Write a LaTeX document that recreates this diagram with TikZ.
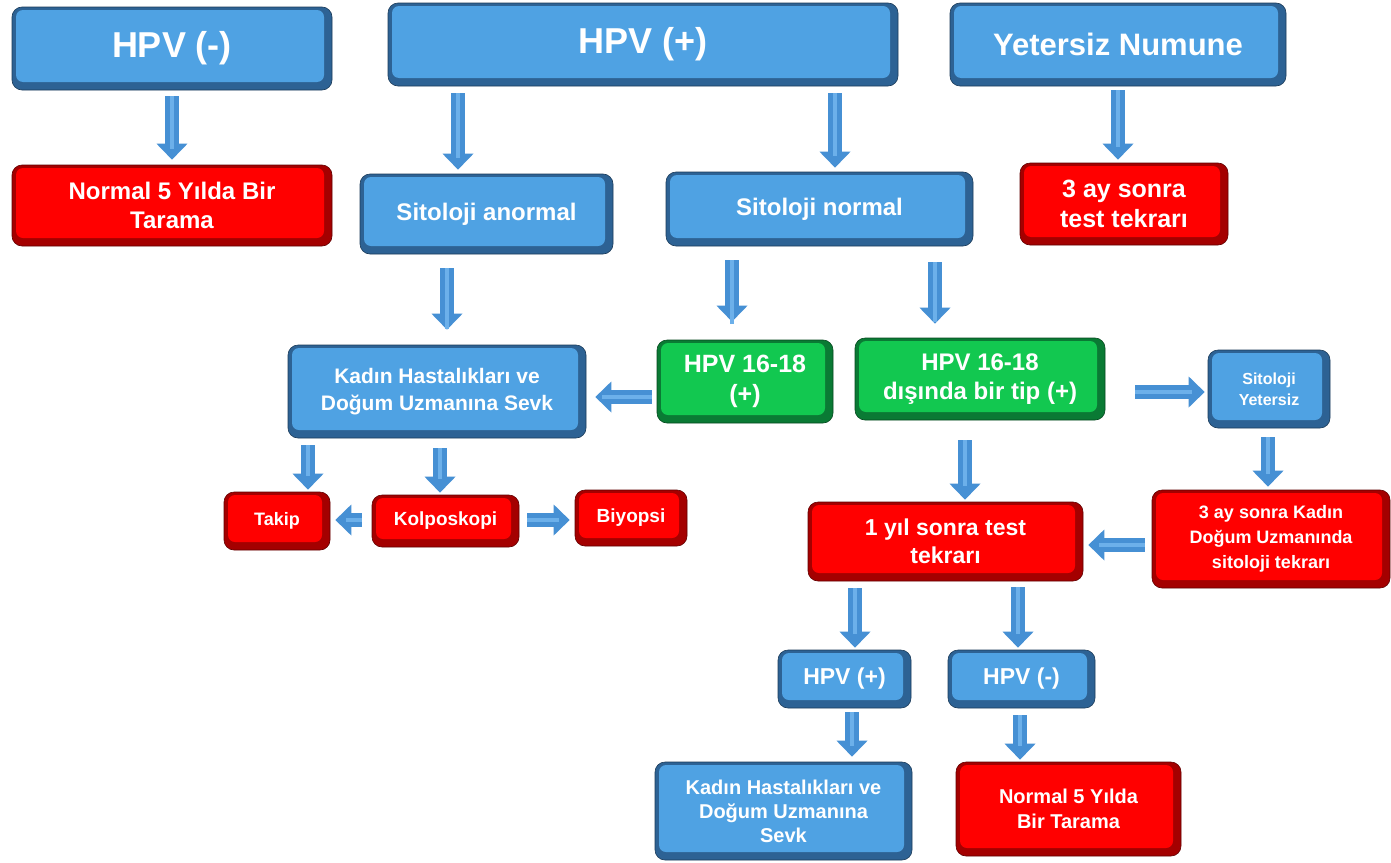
\documentclass[tikz,border=0pt]{standalone}
\usepackage{fontspec}
\setmainfont{Liberation Sans}
\usetikzlibrary{arrows.meta}
\definecolor{bmain}{HTML}{4FA2E3}
\definecolor{bdark}{HTML}{2D6294}
\definecolor{rmain}{HTML}{FF0000}
\definecolor{rdark}{HTML}{A40000}
\definecolor{gmain}{HTML}{12C850}
\definecolor{gdark}{HTML}{0A7A34}
\definecolor{amain}{HTML}{4690D4}
\definecolor{alight}{HTML}{6CB0EA}
\newcommand\fs[2]{\fontsize{#1}{#2}\selectfont\bfseries}
\newcommand\bx[7]{\node[#6, minimum width={#4-#2}, minimum height={#5-#3}] (#1) at ({(#2+#4)/2},{(#3+#5)/2}) {#7};}
\tikzset{
  bevelbox/.style 2 args={fill=#2, draw=#2!60!black, line width=0.6pt, rounded corners=10pt,
    text=white, align=center, inner sep=0pt,
    path picture={\fill[#1, rounded corners=7pt]
      ([shift={(4pt,-3pt)}]path picture bounding box.north west) rectangle
      ([shift={(-8pt,8pt)}]path picture bounding box.south east);}},
  bluebox/.style={bevelbox={bmain}{bdark}},
  redbox/.style={bevelbox={rmain}{rdark}},
  greenbox/.style={bevelbox={gmain}{gdark}},
  ba/.style={draw=amain, line width=14pt, -{Triangle[width=30pt,length=16pt]},
    postaction={draw=alight, line width=4pt, -, shorten >=16pt}},
}
\begin{document}
\begin{tikzpicture}[x=1pt,y=-1pt]
\fill[white] (0,0) rectangle (1391,862);
\useasboundingbox (0,0) rectangle (1391,862);
% row 1
\bx{hpvneg}{12}{7}{332}{90}{bluebox,font=\fs{36}{42}}{HPV (-)}
\bx{hpvpos}{388}{3}{898}{86}{bluebox,font=\fs{36}{42}}{HPV (+)}
\bx{yeter}{950}{3}{1286}{86}{bluebox,font=\fs{31}{37}}{Yetersiz Numune}
% row 2
\bx{norm1}{12}{165}{332}{246}{redbox,font=\fs{24}{29}}{Normal 5 Yılda Bir\\Tarama}
\bx{sitan}{360}{174}{613}{254}{bluebox,font=\fs{24}{29}}{Sitoloji anormal}
\bx{sitnorm}{666}{172}{973}{246}{bluebox,font=\fs{24}{29}}{Sitoloji normal}
\bx{ay3}{1020}{163}{1228}{245}{redbox,font=\fs{25}{30}}{3 ay sonra\\test tekrarı}
% row 3
\bx{kadin}{288}{345}{586}{438}{bluebox,font=\fs{21}{27}}{Kadın Hastalıkları ve\\Doğum Uzmanına Sevk}
\bx{hpv1618}{657}{340}{833}{423}{greenbox,font=\fs{25}{30}}{HPV 16-18\\(+)}
\bx{disinda}{855}{338}{1105}{420}{greenbox,font=\fs{24}{29}}{HPV 16-18\\dışında bir tip (+)}
\bx{sityet}{1208}{350}{1330}{428}{bluebox,font=\fs{16}{21}}{Sitoloji\\Yetersiz}
% row 4
\bx{takip}{224}{492}{330}{550}{redbox,font=\fs{18}{22}}{Takip}
\bx{kolpo}{372}{495}{519}{547}{redbox,font=\fs{19}{23}}{Kolposkopi}
\bx{biyopsi}{575}{490}{687}{546}{redbox,font=\fs{19}{23}}{Biyopsi}
\bx{yil1}{808}{502}{1083}{581}{redbox,font=\fs{23}{28}}{1 yıl sonra test\\tekrarı}
\bx{ay3k}{1152}{490}{1390}{588}{redbox,font=\fs{18}{25}}{3 ay sonra Kadın\\Doğum Uzmanında\\sitoloji tekrarı}
% row 5
\bx{hpvp2}{778}{650}{911}{708}{bluebox,font=\fs{23}{28}}{HPV (+)}
\bx{hpvn2}{948}{650}{1095}{708}{bluebox,font=\fs{23}{28}}{HPV (-)}
% row 6
\bx{kadin2}{655}{762}{912}{860}{bluebox,font=\fs{20}{24}}{Kadın Hastalıkları ve\\Doğum Uzmanına\\Sevk}
\bx{norm2}{956}{762}{1181}{856}{redbox,font=\fs{20}{25}}{Normal 5 Yılda\\Bir Tarama}
% arrows
\draw[ba,shorten <=6pt,shorten >=5pt] (172,0 |- hpvneg.south) -- (172,0 |- norm1.north);
\draw[ba,shorten <=7pt,shorten >=4pt] (458,0 |- hpvpos.south) -- (458,0 |- sitan.north);
\draw[ba,shorten <=7pt,shorten >=4pt] (835,0 |- hpvpos.south) -- (835,0 |- sitnorm.north);
\draw[ba,shorten <=4pt,shorten >=3pt] (1118,0 |- yeter.south) -- (1118,0 |- ay3.north);
\draw[ba,shorten <=14pt,shorten >=15pt] (447,0 |- sitan.south) -- (447,0 |- kadin.north);
\draw[ba,shorten <=14pt,shorten >=18pt] (732,0 |- sitnorm.south) -- (732,0 |- hpv1618.north);
\draw[ba,shorten <=16pt,shorten >=14pt] (935,0 |- sitnorm.south) -- (935,0 |- disinda.north);
\draw[ba,shorten <=5pt,shorten >=9pt] (hpv1618.west |- 0,397) -- (kadin.east |- 0,397);
\draw[ba,shorten <=30pt,shorten >=3pt] (disinda.east |- 0,392) -- (sityet.west |- 0,392);
\draw[ba,shorten <=7pt,shorten >=2pt] (308,0 |- kadin.south) -- (308,0 |- takip.north);
\draw[ba,shorten <=10pt,shorten >=2pt] (440,0 |- kadin.south) -- (440,0 |- kolpo.north);
\draw[ba,shorten <=10pt,shorten >=5pt] (kolpo.west |- 0,520) -- (takip.east |- 0,520);
\draw[ba,shorten <=8pt,shorten >=5pt] (kolpo.east |- 0,520) -- (biyopsi.west |- 0,520);
\draw[ba,shorten <=20pt,shorten >=2pt] (965,0 |- disinda.south) -- (965,0 |- yil1.north);
\draw[ba,shorten <=9pt,shorten >=3pt] (1268,0 |- sityet.south) -- (1268,0 |- ay3k.north);
\draw[ba,shorten <=7pt,shorten >=5pt] (ay3k.west |- 0,545) -- (yil1.east |- 0,545);
\draw[ba,shorten <=7pt,shorten >=2pt] (855,0 |- yil1.south) -- (855,0 |- hpvp2.north);
\draw[ba,shorten <=6pt,shorten >=2pt] (1018,0 |- yil1.south) -- (1018,0 |- hpvn2.north);
\draw[ba,shorten <=4pt,shorten >=5pt] (852,0 |- hpvp2.south) -- (852,0 |- kadin2.north);
\draw[ba,shorten <=7pt,shorten >=2pt] (1020,0 |- hpvn2.south) -- (1020,0 |- norm2.north);
\end{tikzpicture}
\end{document}
